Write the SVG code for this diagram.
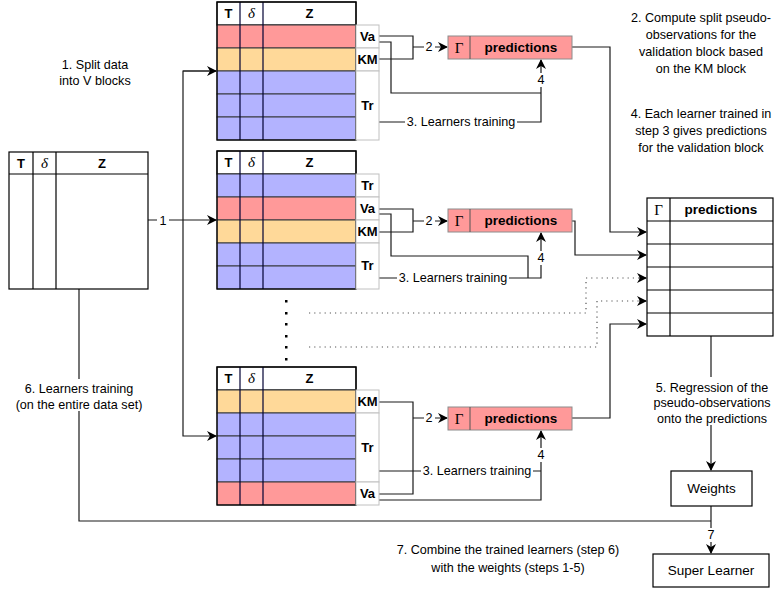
<svg xmlns="http://www.w3.org/2000/svg" width="774" height="595" viewBox="0 0 774 595">
<defs>
<style>
text{font-family:"Liberation Sans",Arial,sans-serif;fill:#000}
.t{font-size:12.6px;text-anchor:middle}
.m{font-size:13.5px;text-anchor:middle}
.b{font-size:13px;font-weight:bold;text-anchor:middle}
.pb{font-size:13.5px;font-weight:bold;text-anchor:middle}
.g{font-family:"Liberation Serif","Times New Roman",serif;font-size:15px;text-anchor:middle}
.d{font-family:"Liberation Serif","Times New Roman",serif;font-size:15px;font-style:italic;text-anchor:middle}
.tbl{fill:none;stroke:#000;stroke-width:1.2}
.hdr{fill:#fff;stroke:#000;stroke-width:1.2}
.red{fill:#ff9999;stroke:#36393d;stroke-width:1}
.org{fill:#ffd999;stroke:#36393d;stroke-width:1}
.blu{fill:#b3b3ff;stroke:#36393d;stroke-width:1}
.col{stroke:#000033;stroke-width:1.2}
.side{fill:#fff;stroke:#c0c0c0;stroke-width:1}
.pred{fill:#ff9999;stroke:#8c8c8c;stroke-width:1}
.box{fill:#fff;stroke:#000;stroke-width:1.2}
.c{fill:none;stroke:#1a1a1a;stroke-width:1.2}
.dot{fill:none;stroke:#555;stroke-width:1.2;stroke-dasharray:1.2 4}
.lbl{fill:#fff;stroke:none}
</style>
<marker id="ah" viewBox="0 0 10 10" refX="9" refY="5" markerWidth="10" markerHeight="10" markerUnits="userSpaceOnUse" orient="auto">
<path d="M0,0 L10,5 L0,10 L3,5 z" fill="#000"/>
</marker>
</defs>
<rect width="774" height="595" fill="#fff"/>

<!-- Free text -->
<g id="txt-split">
<text class="t" x="95" y="69">1. Split data</text>
<text class="t" x="95" y="85">into V blocks</text>
</g>
<g id="txt-step2">
<text class="t" x="701" y="22">2. Compute split pseudo-</text>
<text class="t" x="701" y="39">observations for the</text>
<text class="t" x="701" y="56">validation block based</text>
<text class="t" x="701" y="73">on the KM block</text>
</g>
<g id="txt-step4">
<text class="t" x="701" y="118">4. Each learner trained in</text>
<text class="t" x="701" y="135">step 3 gives predictions</text>
<text class="t" x="701" y="152">for the validation block</text>
</g>
<g id="txt-step7">
<text class="t" x="508" y="554">7. Combine the trained learners (step 6)</text>
<text class="t" x="508" y="572">with the weights (steps 1-5)</text>
</g>

<!-- Connectors -->
<g id="connectors">
<polyline class="c" points="79,289 79,521 711,521"/>
<polyline class="c" points="148,220 216,220" marker-end="url(#ah)"/>
<polyline class="c" points="216,71 183,71 183,436 216,436" marker-end="url(#ah)"/>
<polyline class="c" points="183,71 216,71" marker-end="url(#ah)"/>
<!-- block 1 -->
<polyline class="c" points="379,36 413,36 413,59 379,59"/>
<polyline class="c" points="413,47 447,47" marker-end="url(#ah)"/>
<polyline class="c" points="379,42 391,42 391,93 541,93"/>
<polyline class="c" points="379,122 541,122 541,60" marker-end="url(#ah)"/>
<polyline class="c" points="572,47 610,47 610,232 646,232" marker-end="url(#ah)"/>
<!-- block 2 -->
<polyline class="c" points="379,209 413,209 413,232 379,232"/>
<polyline class="c" points="413,221 447,221" marker-end="url(#ah)"/>
<polyline class="c" points="379,214 391,214 391,256 528,256 528,278"/>
<polyline class="c" points="379,278 541,278 541,233" marker-end="url(#ah)"/>
<polyline class="c" points="572,221 575,221 575,255 646,255" marker-end="url(#ah)"/>
<!-- block 3 -->
<polyline class="c" points="379,402 413,402 413,494 379,494"/>
<polyline class="c" points="413,418 447,418" marker-end="url(#ah)"/>
<polyline class="c" points="379,500 541,500 541,431" marker-end="url(#ah)"/>
<polyline class="c" points="379,471 541,471"/>
<polyline class="c" points="572,418 610,418 610,324 646,324" marker-end="url(#ah)"/>
<!-- dotted -->
<polyline class="dot" points="309,313 586,313 586,278 639,278"/>
<polyline class="c" points="639,278 646,278" marker-end="url(#ah)"/>
<polyline class="dot" points="309,347 597,347 597,301 639,301"/>
<polyline class="c" points="639,301 646,301" marker-end="url(#ah)"/>
<!-- regression, weights -->
<polyline class="c" points="711,336 711,470" marker-end="url(#ah)"/>
<polyline class="c" points="711,506 711,553" marker-end="url(#ah)"/>
<!-- labels on connectors -->
<rect class="lbl" x="157" y="213" width="12" height="14"/>
<text class="t" x="163" y="225">1</text>
<rect class="lbl" x="424" y="40" width="11" height="14"/>
<text class="t" x="429" y="51">2</text>
<rect class="lbl" x="424" y="214" width="11" height="14"/>
<text class="t" x="429" y="225">2</text>
<rect class="lbl" x="424" y="411" width="11" height="14"/>
<text class="t" x="429" y="422">2</text>
<rect class="lbl" x="536" y="73" width="11" height="14"/>
<text class="t" x="541" y="84">4</text>
<rect class="lbl" x="536" y="251" width="11" height="14"/>
<text class="t" x="541" y="262">4</text>
<rect class="lbl" x="536" y="448" width="11" height="14"/>
<text class="t" x="541" y="459">4</text>
<rect class="lbl" x="405" y="115" width="112" height="14"/>
<text class="t" x="461" y="126">3. Learners training</text>
<rect class="lbl" x="397" y="271" width="112" height="14"/>
<text class="t" x="453" y="282">3. Learners training</text>
<rect class="lbl" x="421" y="464" width="112" height="14"/>
<text class="t" x="477" y="475">3. Learners training</text>
<rect class="lbl" x="705" y="528" width="12" height="14"/>
<text class="t" x="711" y="539">7</text>
<rect class="lbl" x="16" y="379" width="126" height="32"/>
<text class="t" x="79" y="393">6. Learners training</text>
<text class="t" x="79" y="409">(on the entire data set)</text>
<rect class="lbl" x="650" y="377" width="124" height="48"/>
<text class="t" x="712" y="392">5. Regression of the</text>
<text class="t" x="712" y="407">pseudo-observations</text>
<text class="t" x="712" y="423">onto the predictions</text>
</g>

<!-- vertical dots -->
<g id="ellipsis">
<rect x="285" y="300" width="2.5" height="2.5" fill="#000"/>
<rect x="285" y="312" width="2.5" height="2.5" fill="#000"/>
<rect x="285" y="323" width="2.5" height="2.5" fill="#000"/>
<rect x="285" y="335" width="2.5" height="2.5" fill="#000"/>
<rect x="285" y="346" width="2.5" height="2.5" fill="#000"/>
<rect x="285" y="358" width="2.5" height="2.5" fill="#000"/>
</g>

<!-- Full data table -->
<g id="data-table">
<rect class="hdr" x="9" y="152" width="139" height="137"/>
<line class="tbl" x1="9" y1="174" x2="148" y2="174"/>
<line class="tbl" x1="33" y1="152" x2="33" y2="289"/>
<line class="tbl" x1="56" y1="152" x2="56" y2="289"/>
<text class="b" x="21" y="168">T</text>
<text class="d" x="44.5" y="168">δ</text>
<text class="b" x="102" y="168">Z</text>
</g>

<!-- Block 1 -->
<g id="block1">
<rect class="hdr" x="217" y="2" width="139" height="23"/>
<rect class="red" x="217" y="25" width="139" height="23"/>
<rect class="org" x="217" y="48" width="139" height="23"/>
<rect class="blu" x="217" y="71" width="139" height="23"/>
<rect class="blu" x="217" y="94" width="139" height="23"/>
<rect class="blu" x="217" y="117" width="139" height="23"/>
<line class="col" x1="240" y1="2" x2="240" y2="140"/>
<line class="col" x1="263" y1="2" x2="263" y2="140"/>
<rect class="tbl" x="217" y="2" width="139" height="138"/>
<text class="b" x="228.5" y="18">T</text>
<text class="d" x="251.5" y="18">δ</text>
<text class="b" x="309.5" y="18">Z</text>
<rect class="side" x="356" y="25" width="23" height="23"/>
<rect class="side" x="356" y="48" width="23" height="23"/>
<rect class="side" x="356" y="71" width="23" height="69"/>
<text class="b" x="367.5" y="41">Va</text>
<text class="b" x="367.5" y="64">KM</text>
<text class="b" x="367.5" y="110">Tr</text>
</g>
<g id="pred1">
<rect class="pred" x="448" y="36" width="124" height="23"/>
<line x1="470" y1="36" x2="470" y2="59" stroke="#555" stroke-width="1"/>
<text class="g" x="459" y="53">Γ</text>
<text class="pb" x="521" y="52">predictions</text>
</g>

<!-- Block 2 -->
<g id="block2">
<rect class="hdr" x="217" y="151" width="139" height="23"/>
<rect class="blu" x="217" y="174" width="139" height="23"/>
<rect class="red" x="217" y="197" width="139" height="23"/>
<rect class="org" x="217" y="220" width="139" height="23"/>
<rect class="blu" x="217" y="243" width="139" height="23"/>
<rect class="blu" x="217" y="266" width="139" height="23"/>
<line class="col" x1="240" y1="151" x2="240" y2="289"/>
<line class="col" x1="263" y1="151" x2="263" y2="289"/>
<rect class="tbl" x="217" y="151" width="139" height="138"/>
<text class="b" x="228.5" y="167">T</text>
<text class="d" x="251.5" y="167">δ</text>
<text class="b" x="309.5" y="167">Z</text>
<rect class="side" x="356" y="174" width="23" height="23"/>
<rect class="side" x="356" y="197" width="23" height="23"/>
<rect class="side" x="356" y="220" width="23" height="23"/>
<rect class="side" x="356" y="243" width="23" height="46"/>
<text class="b" x="367.5" y="190">Tr</text>
<text class="b" x="367.5" y="213">Va</text>
<text class="b" x="367.5" y="236">KM</text>
<text class="b" x="367.5" y="270">Tr</text>
</g>
<g id="pred2">
<rect class="pred" x="448" y="209" width="124" height="23"/>
<line x1="470" y1="209" x2="470" y2="232" stroke="#555" stroke-width="1"/>
<text class="g" x="459" y="226">Γ</text>
<text class="pb" x="521" y="225">predictions</text>
</g>

<!-- Block 3 -->
<g id="block3">
<rect class="hdr" x="217" y="367" width="139" height="23"/>
<rect class="org" x="217" y="390" width="139" height="23"/>
<rect class="blu" x="217" y="413" width="139" height="23"/>
<rect class="blu" x="217" y="436" width="139" height="23"/>
<rect class="blu" x="217" y="459" width="139" height="23"/>
<rect class="red" x="217" y="482" width="139" height="23"/>
<line class="col" x1="240" y1="367" x2="240" y2="505"/>
<line class="col" x1="263" y1="367" x2="263" y2="505"/>
<rect class="tbl" x="217" y="367" width="139" height="138"/>
<text class="b" x="228.5" y="383">T</text>
<text class="d" x="251.5" y="383">δ</text>
<text class="b" x="309.5" y="383">Z</text>
<rect class="side" x="356" y="390" width="23" height="23"/>
<rect class="side" x="356" y="413" width="23" height="69"/>
<rect class="side" x="356" y="482" width="23" height="23"/>
<text class="b" x="367.5" y="406">KM</text>
<text class="b" x="367.5" y="452">Tr</text>
<text class="b" x="367.5" y="498">Va</text>
</g>
<g id="pred3">
<rect class="pred" x="448" y="407" width="124" height="23"/>
<line x1="470" y1="407" x2="470" y2="430" stroke="#555" stroke-width="1"/>
<text class="g" x="459" y="424">Γ</text>
<text class="pb" x="521" y="423">predictions</text>
</g>

<!-- Collected predictions table -->
<g id="pred-table">
<rect class="hdr" x="647" y="198" width="126" height="138"/>
<line class="tbl" x1="647" y1="221" x2="773" y2="221"/>
<line class="tbl" x1="647" y1="244" x2="773" y2="244"/>
<line class="tbl" x1="647" y1="267" x2="773" y2="267"/>
<line class="tbl" x1="647" y1="290" x2="773" y2="290"/>
<line class="tbl" x1="647" y1="313" x2="773" y2="313"/>
<line class="tbl" x1="670" y1="198" x2="670" y2="336"/>
<text class="g" x="658.5" y="215">Γ</text>
<text class="pb" x="721" y="214">predictions</text>
</g>

<g id="weights">
<rect class="box" x="671" y="471" width="81" height="35"/>
<text class="m" x="711.5" y="493">Weights</text>
</g>
<g id="super-learner">
<rect class="box" x="653" y="554" width="116" height="33"/>
<text class="m" x="711" y="575">Super Learner</text>
</g>
</svg>
